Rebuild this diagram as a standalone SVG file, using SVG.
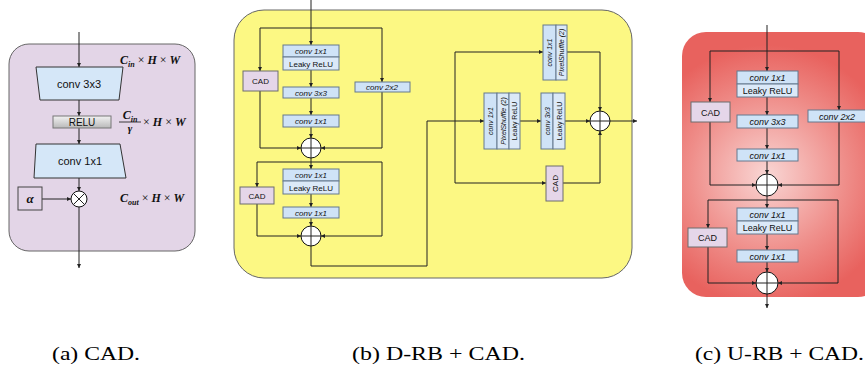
<svg xmlns="http://www.w3.org/2000/svg" width="865" height="366" viewBox="0 0 865 366">
<defs>
<marker id="ah" viewBox="0 0 6 6" refX="6" refY="3" markerWidth="4" markerHeight="4" orient="auto" markerUnits="userSpaceOnUse">
<path d="M0,0 L6,3 L0,6 z" fill="#222"/>
</marker>
<linearGradient id="gray" x1="0" y1="0" x2="0" y2="1">
<stop offset="0" stop-color="#f2f2f2"/><stop offset="1" stop-color="#b9b9b9"/>
</linearGradient>
<radialGradient id="red" cx="767" cy="175" r="130" gradientUnits="userSpaceOnUse">
<stop offset="0" stop-color="#f9d6d4"/><stop offset="0.6" stop-color="#ef8e8a"/><stop offset="1" stop-color="#e8625e"/>
</radialGradient>
<style>
.c{fill:none;stroke:#222;stroke-width:1;marker-end:url(#ah)}
.l{fill:none;stroke:#222;stroke-width:1}
.bx{fill:#cfe3f7;stroke:#65798e;stroke-width:1}
.lr{fill:#dbe9f8;stroke:#65798e;stroke-width:1}
.cad{fill:#e5d6e9;stroke:#6c6c6c;stroke-width:1}
.t{font-family:"Liberation Sans",Arial,sans-serif;fill:#111;text-anchor:middle}
.i{font-style:italic}
.m{font-family:"Liberation Serif","Times New Roman",serif;font-weight:bold;font-style:italic;fill:#111}
.n{font-weight:normal;font-style:normal}
.cap{font-family:"Liberation Serif","Times New Roman",serif;fill:#000;font-size:19px}
.circ{fill:#fff;stroke:#111;stroke-width:1}
</style>
</defs>

<!-- Panel backgrounds -->
<rect x="9" y="44" width="186" height="207" rx="20" fill="#e3d5e7" stroke="#666" stroke-width="1"/>
<rect x="234" y="10" width="398" height="268" rx="30" fill="#fcf883" stroke="#666" stroke-width="1"/>
<rect x="682" y="32" width="200" height="265" rx="24" fill="url(#red)"/>

<!-- Connectors -->
<g id="connectors">
<!-- panel a -->
<path class="c" d="M79,32 V67"/>
<path class="c" d="M79,100 V116"/>
<path class="c" d="M79,128 V144"/>
<path class="c" d="M79,178 V191"/>
<path class="c" d="M42,199 H71"/>
<path class="c" d="M79,207 V268"/>
<!-- panel b -->
<path class="c" d="M311,0 V45"/>
<path class="c" d="M311,28 H260 V71"/>
<path class="c" d="M311,28 H382 V82"/>
<path class="c" d="M311,70 V87"/>
<path class="c" d="M311,98 V115"/>
<path class="c" d="M311,127 V138"/>
<path class="c" d="M260,91 V148 H301"/>
<path class="c" d="M382,92 V148 H321"/>
<path class="c" d="M311,158 V169"/>
<path class="c" d="M311,162 H257 V187"/>
<path class="c" d="M311,162 H382 V236 H321"/>
<path class="c" d="M311,194 V207"/>
<path class="c" d="M311,218 V226"/>
<path class="c" d="M257,204 V236 H301"/>
<path class="c" d="M311,246 V266 H427 V121 H484"/>
<path class="c" d="M455,121 V52 H543"/>
<path class="c" d="M455,121 V183 H546"/>
<path class="c" d="M520,121 H541"/>
<path class="c" d="M565,121 H590"/>
<path class="c" d="M567,52 H600 V111"/>
<path class="c" d="M563,183 H600 V131"/>
<path class="c" d="M610,121 H637"/>
<!-- panel c -->
<path class="c" d="M767,25 V71"/>
<path class="c" d="M767,51 H710 V102"/>
<path class="c" d="M767,51 H839 V110"/>
<path class="c" d="M767,97 V115"/>
<path class="c" d="M767,128 V149"/>
<path class="c" d="M767,161 V174"/>
<path class="c" d="M710,122 V185 H756"/>
<path class="c" d="M839,122 V185 H778"/>
<path class="c" d="M767,196 V208"/>
<path class="c" d="M767,200 H708 V228"/>
<path class="c" d="M767,200 H838 V283 H778"/>
<path class="c" d="M767,234 V250"/>
<path class="c" d="M767,262 V272"/>
<path class="c" d="M708,247 V283 H756"/>
<path class="c" d="M767,294 V308"/>
</g>

<!-- Panel a nodes -->
<g id="a-conv3x3">
<polygon points="36,67 123,67 119,100 40,100" fill="#d5e7f8" stroke="#333" stroke-width="1"/>
<text class="t" x="79" y="88" font-size="11">conv 3x3</text>
</g>
<g id="a-relu">
<rect x="53" y="116" width="58" height="12" fill="url(#gray)" stroke="#777" stroke-width="1"/>
<text class="t" x="82" y="126" font-size="10">RELU</text>
</g>
<g id="a-conv1x1">
<polygon points="36,144 120,144 126,178 34,178" fill="#d5e7f8" stroke="#333" stroke-width="1"/>
<text class="t" x="80" y="165" font-size="11">conv 1x1</text>
</g>
<g id="a-mul">
<circle class="circ" cx="79" cy="199" r="8"/>
<path class="l" d="M73.3,193.3 L84.7,204.7 M84.7,193.3 L73.3,204.7"/>
</g>
<g id="a-alpha">
<rect x="18" y="187" width="24" height="23" fill="#e3d5e7" stroke="#444" stroke-width="1"/>
<text class="m" x="30" y="203" font-size="13" text-anchor="middle">α</text>
</g>
<g id="a-labels">
<text class="m" x="120" y="64" font-size="12">C<tspan font-size="8" dy="2.5">in</tspan><tspan class="n" dy="-2.5"> × </tspan>H<tspan class="n"> × </tspan>W</text>
<text class="m" x="130" y="119" font-size="12" text-anchor="middle">C<tspan font-size="8" dy="2.5">in</tspan></text>
<line x1="119" y1="122" x2="141" y2="122" stroke="#111" stroke-width="0.8"/>
<text class="m" x="130" y="132" font-size="11" text-anchor="middle">γ</text>
<text class="m" x="143" y="126" font-size="12"><tspan class="n">× </tspan>H<tspan class="n"> × </tspan>W</text>
<text class="m" x="120" y="202" font-size="12">C<tspan font-size="8" dy="2.5">out</tspan><tspan class="n" dy="-2.5"> × </tspan>H<tspan class="n"> × </tspan>W</text>
</g>

<!-- Panel b nodes -->
<g id="b-conv1x1-lrelu">
<rect class="bx" x="283" y="45" width="56" height="12"/>
<text class="t i" x="311" y="54" font-size="8">conv 1x1</text>
<rect class="lr" x="283" y="57" width="56" height="13"/>
<text class="t" x="311" y="67" font-size="8">Leaky ReLU</text>
</g>
<g id="b-cad1">
<rect class="cad" x="243" y="71" width="35" height="20"/>
<text class="t" x="260.5" y="84" font-size="8">CAD</text>
</g>
<g id="b-conv2x2">
<rect class="bx" x="355" y="82" width="55" height="10"/>
<text class="t i" x="382" y="90" font-size="8">conv 2x2</text>
</g>
<g id="b-conv3x3">
<rect class="bx" x="283" y="87" width="56" height="11"/>
<text class="t i" x="311" y="95.5" font-size="8">conv 3x3</text>
</g>
<g id="b-conv1x1b">
<rect class="bx" x="283" y="115" width="56" height="12"/>
<text class="t i" x="311" y="124" font-size="8">conv 1x1</text>
</g>
<g id="b-add1">
<circle class="circ" cx="311" cy="148" r="10"/>
<path class="l" d="M301,148 H321 M311,138 V158"/>
</g>
<g id="b-conv1x1-lrelu2">
<rect class="bx" x="283" y="169" width="56" height="12"/>
<text class="t i" x="311" y="178" font-size="8">conv 1x1</text>
<rect class="lr" x="283" y="181" width="56" height="13"/>
<text class="t" x="311" y="191" font-size="8">Leaky ReLU</text>
</g>
<g id="b-cad2">
<rect class="cad" x="240" y="187" width="34" height="17"/>
<text class="t" x="257" y="198.5" font-size="8">CAD</text>
</g>
<g id="b-conv1x1c">
<rect class="bx" x="283" y="207" width="56" height="11"/>
<text class="t i" x="311" y="215.5" font-size="8">conv 1x1</text>
</g>
<g id="b-add2">
<circle class="circ" cx="311" cy="236" r="10"/>
<path class="l" d="M301,236 H321 M311,226 V246"/>
</g>
<g id="b-up-top">
<rect class="bx" x="543" y="25" width="13" height="55"/>
<rect class="lr" x="556" y="25" width="11" height="55"/>
<text class="t i" font-size="7" transform="translate(552,52.5) rotate(-90)">conv 1x1</text>
<text class="t i" font-size="7" transform="translate(564,52.5) rotate(-90)">PixelShuffle (2)</text>
</g>
<g id="b-up-mid">
<rect class="bx" x="484" y="93" width="13" height="56"/>
<rect class="lr" x="497" y="93" width="12" height="56"/>
<rect class="lr" x="509" y="93" width="11" height="56" fill="#e2ecf8"/>
<text class="t i" font-size="7" transform="translate(493,121) rotate(-90)">conv 1x1</text>
<text class="t i" font-size="7" transform="translate(505.5,121) rotate(-90)">PixelShuffle (2)</text>
<text class="t" font-size="7" transform="translate(517,121) rotate(-90)">Leaky ReLU</text>
</g>
<g id="b-conv3x3-lrelu">
<rect class="bx" x="541" y="93" width="12" height="56"/>
<rect class="lr" x="553" y="93" width="12" height="56"/>
<text class="t i" font-size="7" transform="translate(549.5,121) rotate(-90)">conv 3x3</text>
<text class="t" font-size="7" transform="translate(561.5,121) rotate(-90)">Leaky ReLU</text>
</g>
<g id="b-cad3">
<rect class="cad" x="546" y="166" width="17" height="35"/>
<text class="t" font-size="8" transform="translate(557.5,183.5) rotate(-90)">CAD</text>
</g>
<g id="b-add3">
<circle class="circ" cx="600" cy="121" r="10"/>
<path class="l" d="M590,121 H610 M600,111 V131"/>
</g>

<!-- Panel c nodes -->
<g id="c-conv1x1-lrelu">
<rect class="bx" x="737" y="71" width="61" height="13"/>
<text class="t i" x="767.5" y="81" font-size="9">conv 1x1</text>
<rect class="lr" x="737" y="84" width="61" height="13"/>
<text class="t" x="767.5" y="94" font-size="9">Leaky ReLU</text>
</g>
<g id="c-cad1">
<rect class="cad" x="691" y="102" width="39" height="20"/>
<text class="t" x="710.5" y="115.5" font-size="9">CAD</text>
</g>
<g id="c-conv2x2">
<rect class="bx" x="808" y="110" width="60" height="12"/>
<text class="t i" x="837" y="119.5" font-size="9">conv 2x2</text>
</g>
<g id="c-conv3x3">
<rect class="bx" x="737" y="115" width="61" height="13"/>
<text class="t i" x="767.5" y="125" font-size="9">conv 3x3</text>
</g>
<g id="c-conv1x1b">
<rect class="bx" x="737" y="149" width="61" height="12"/>
<text class="t i" x="767.5" y="158.5" font-size="9">conv 1x1</text>
</g>
<g id="c-add1">
<circle class="circ" cx="767" cy="185" r="11"/>
<path class="l" d="M756,185 H778 M767,174 V196"/>
</g>
<g id="c-conv1x1-lrelu2">
<rect class="bx" x="737" y="208" width="61" height="13"/>
<text class="t i" x="767.5" y="218" font-size="9">conv 1x1</text>
<rect class="lr" x="737" y="221" width="61" height="13"/>
<text class="t" x="767.5" y="231" font-size="9">Leaky ReLU</text>
</g>
<g id="c-cad2">
<rect class="cad" x="688" y="228" width="39" height="19"/>
<text class="t" x="707.5" y="241" font-size="9">CAD</text>
</g>
<g id="c-conv1x1c">
<rect class="bx" x="737" y="250" width="61" height="12"/>
<text class="t i" x="767.5" y="259.5" font-size="9">conv 1x1</text>
</g>
<g id="c-add2">
<circle class="circ" cx="767" cy="283" r="11"/>
<path class="l" d="M756,283 H778 M767,272 V294"/>
</g>

<!-- Captions -->
<text class="cap" x="52" y="360" textLength="88" lengthAdjust="spacingAndGlyphs">(a) CAD.</text>
<text class="cap" x="352" y="360" textLength="173" lengthAdjust="spacingAndGlyphs">(b) D-RB + CAD.</text>
<text class="cap" x="695" y="360" textLength="169" lengthAdjust="spacingAndGlyphs">(c) U-RB + CAD.</text>
</svg>
